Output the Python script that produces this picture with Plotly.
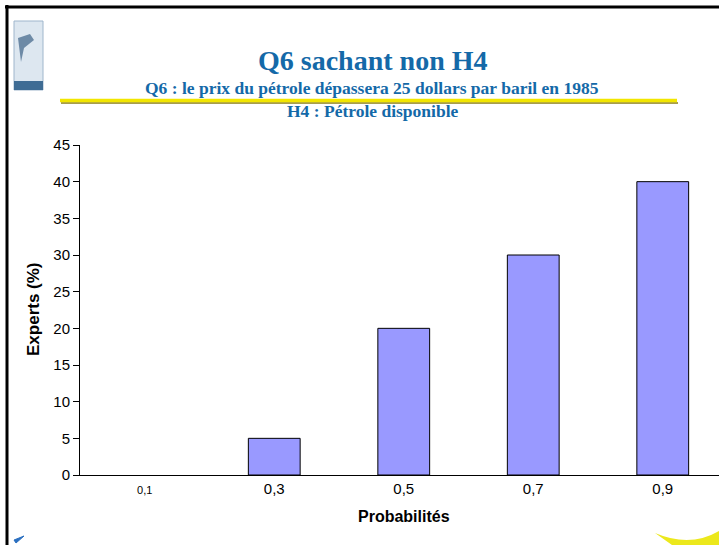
import plotly.graph_objects as go

probas = ["0,1", "0,3", "0,5", "0,7", "0,9"]
experts = [0, 5, 20, 30, 40]
yticks = [0, 5, 10, 15, 20, 25, 30, 35, 40, 45]

W, H = 719, 545
L, R, T, B = 80, 719, 145, 475

def px(x):
    return (x - L) / (R - L)

def py(y):
    return (B - y) / (B - T)

fig = go.Figure()
fig.add_trace(go.Bar(
    x=probas, y=experts,
    marker=dict(color="#9999ff",
                line=dict(color="#000000", width=[0 if v == 0 else 1 for v in experts])),
    width=0.4,
))

ticktext = ['<span style="font-size:11px">0,1</span>'] + probas[1:]

blue = "#1469a8"
shapes = [
    # slide border
    dict(type="line", xref="paper", yref="paper", x0=px(5), x1=px(719), y0=py(7), y1=py(7),
         line=dict(color="#000", width=3)),
    dict(type="line", xref="paper", yref="paper", x0=px(7), x1=px(7), y0=py(5), y1=py(545),
         line=dict(color="#000", width=3)),
    # yellow rule under subtitle
    dict(type="line", xref="paper", yref="paper", x0=px(61), x1=px(678), y0=py(103), y1=py(103),
         line=dict(color="#8a7d10", width=1.5)),
    dict(type="line", xref="paper", yref="paper", x0=px(60), x1=px(677), y0=py(100.5), y1=py(100.5),
         line=dict(color="#f2e600", width=3.5)),
    # logo
    dict(type="rect", xref="paper", yref="paper", x0=px(14), x1=px(43), y0=py(21), y1=py(90),
         fillcolor="#dde7f0", line=dict(color="#9fb6cc", width=1)),
    dict(type="rect", xref="paper", yref="paper", x0=px(14), x1=px(43), y0=py(81), y1=py(90),
         fillcolor="#3f6c94", line=dict(width=0)),
    dict(type="path", xref="paper", yref="paper",
         path=f"M {px(18)},{py(38)} L {px(30)},{py(34)} L {px(34)},{py(40)} L {px(24)},{py(48)} L {px(21)},{py(62)} Z",
         fillcolor="#6d8aa6", line=dict(width=0)),
    # bottom-left mark
    dict(type="path", xref="paper", yref="paper",
         path=f"M {px(14)},{py(540)} L {px(24)},{py(536)} L {px(16)},{py(543)} Z",
         fillcolor="#2a6fc0", line=dict(color="#2a6fc0", width=1)),
    # bottom-right swoosh
    dict(type="path", xref="paper", yref="paper",
         path=f"M {px(655)},{py(533)} Q {px(690)},{py(548)} {px(719)},{py(531)} L {px(719)},{py(545)} L {px(672)},{py(545)} Z",
         fillcolor="#ece81c", line=dict(width=0)),
]

def note(text, x, y, size, family="Liberation Sans", color="#000", angle=0):
    return dict(text=text, x=px(x), y=py(y), xref="paper", yref="paper",
                xanchor="center", yanchor="middle", textangle=angle, showarrow=False,
                font=dict(family=family, size=size, color=color))

annotations = [
    note("<b>Q6 sachant non H4</b>", 373, 60, 28, "Liberation Serif", blue),
    note("<b>Q6 : le prix du pétrole dépassera 25 dollars par baril en 1985</b>", 372, 88, 17.5,
         "Liberation Serif", blue),
    note("<b>H4 : Pétrole disponible</b>", 373, 111, 17.5, "Liberation Serif", blue),
    note("<b>Probabilités</b>", 404, 516, 16),
    note("<b>Experts (%)</b>", 33, 309, 17, angle=-90),
]

fig.update_layout(
    width=W, height=H,
    margin=dict(l=L, r=W - R, t=T, b=H - B),
    paper_bgcolor="white", plot_bgcolor="white",
    showlegend=False,
    font=dict(family="Liberation Sans", size=15, color="#000"),
    shapes=shapes,
    annotations=annotations,
)
fig.update_xaxes(
    type="category", range=[-0.5, -0.5 + (R - L) / 129.5],
    tickvals=probas, ticktext=ticktext,
    showline=True, linecolor="#000", linewidth=1, showgrid=False,
    ticks="", ticklen=0,
)
fig.update_yaxes(
    range=[0, 45], tickvals=yticks,
    showline=True, linecolor="#000", linewidth=1, showgrid=False, zeroline=False,
    ticks="outside", ticklen=6, tickcolor="#000",
)

fig.write_html("out.html", config={"displayModeBar": False},
               post_script="document.body.style.margin='0px';")
